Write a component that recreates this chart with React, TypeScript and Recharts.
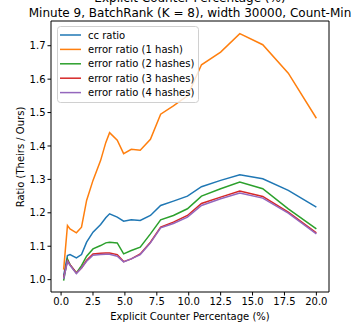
import { Line, LineChart, ReferenceArea, XAxis, YAxis } from "recharts";

const xPct = [0.2, 0.5, 0.7, 1.2, 1.6, 2.0, 2.5, 3.1, 3.5, 3.8, 4.4, 4.9, 5.5, 6.2, 7.0, 7.8, 8.8, 9.9, 11.0, 12.5, 14.0, 15.8, 17.8, 20.0];

const ccRatio = [1.012, 1.072, 1.075, 1.065, 1.075, 1.112, 1.142, 1.165, 1.185, 1.197, 1.187, 1.175, 1.179, 1.177, 1.192, 1.222, 1.235, 1.25, 1.278, 1.297, 1.314, 1.302, 1.267, 1.217];
const err1 = [1.03, 1.162, 1.152, 1.14, 1.157, 1.237, 1.297, 1.357, 1.41, 1.44, 1.417, 1.377, 1.39, 1.387, 1.42, 1.495, 1.52, 1.55, 1.643, 1.681, 1.736, 1.703, 1.618, 1.483];
const err2 = [0.997, 1.062, 1.045, 1.02, 1.042, 1.07, 1.092, 1.102, 1.11, 1.112, 1.11, 1.077, 1.087, 1.097, 1.137, 1.179, 1.192, 1.212, 1.25, 1.272, 1.292, 1.272, 1.212, 1.152];
const err3 = [1.007, 1.057, 1.045, 1.02, 1.035, 1.058, 1.077, 1.079, 1.08, 1.08, 1.075, 1.054, 1.062, 1.077, 1.112, 1.157, 1.172, 1.192, 1.228, 1.247, 1.265, 1.249, 1.202, 1.14];
const err4 = [1.002, 1.055, 1.043, 1.018, 1.035, 1.055, 1.073, 1.075, 1.076, 1.076, 1.07, 1.053, 1.062, 1.075, 1.11, 1.155, 1.168, 1.187, 1.222, 1.242, 1.259, 1.244, 1.199, 1.137];

const xTicks = [0, 2.5, 5, 7.5, 10, 12.5, 15, 17.5, 20];
const yTicks = [1.0, 1.1, 1.2, 1.3, 1.4, 1.5, 1.6, 1.7];

const seriesList = [
  { key: "cc", name: "cc ratio", color: "#1f77b4", values: ccRatio },
  { key: "e1", name: "error ratio (1 hash)", color: "#ff7f0e", values: err1 },
  { key: "e2", name: "error ratio (2 hashes)", color: "#2ca02c", values: err2 },
  { key: "e3", name: "error ratio (3 hashes)", color: "#d62728", values: err3 },
  { key: "e4", name: "error ratio (4 hashes)", color: "#9467bd", values: err4 },
];

const data = xPct.map((x, i) => {
  const row: Record<string, number> = { x };
  seriesList.forEach((s) => {
    row[s.key] = s.values[i];
  });
  return row;
});

const font = "'DejaVu Sans', sans-serif";
const X_DOMAIN = [-0.79, 20.99];
const Y_DOMAIN = [0.963, 1.774];

// drawn outside recharts so it doesn't eat plot space
const LegendBox = () => (
  <svg width={142} height={77} style={{ position: "absolute", left: 57, top: 26 }}>
    <rect x={0.5} y={0.5} width={141} height={76} rx={3} fill="rgba(255,255,255,0.8)" stroke="#d0d0d0" />
    {seriesList.map((s, i) => {
      const cy = 9 + i * 14.4;
      return (
        <g key={s.key}>
          <line x1={3} x2={24} y1={cy} y2={cy} stroke={s.color} strokeWidth={1.5} />
          <text x={31} y={cy} dominantBaseline="central" fontFamily={font} fontSize={10} fill="#000">
            {s.name}
          </text>
        </g>
      );
    })}
  </svg>
);

const App = () => {
  return (
    <div style={{ position: "absolute", left: 0, top: 0, width: 352, height: 326, background: "#fff", overflow: "hidden" }}>
      <svg width={352} height={326} style={{ position: "absolute", left: 0, top: 0 }}>
        <text x={190} y={2} textAnchor="middle" fontFamily={font} fontSize={12} fill="#000">
          Explicit Counter Percentage (%)
        </text>
        <text x={190} y={17} textAnchor="middle" fontFamily={font} fontSize={12} fill="#000">
          Minute 9, BatchRank (K = 8), width 30000, Count-Min
        </text>
        <text x={190} y={320} textAnchor="middle" fontFamily={font} fontSize={10} fill="#000">
          Explicit Counter Percentage (%)
        </text>
        <text
          x={20}
          y={157}
          textAnchor="middle"
          dominantBaseline="central"
          transform="rotate(-90 20 157)"
          fontFamily={font}
          fontSize={10}
          fill="#000"
        >
          Ratio (Theirs / Ours)
        </text>
      </svg>
      <div style={{ position: "absolute", left: 0, top: 0 }}>
        <LineChart width={352} height={326} data={data} margin={{ top: 21, right: 23, bottom: 0, left: 0 }}>
          <XAxis
            dataKey="x"
            type="number"
            domain={X_DOMAIN}
            ticks={xTicks}
            allowDataOverflow
            tickFormatter={(v: number) => v.toFixed(1)}
            height={34}
            tickSize={3.5}
            tickLine={{ stroke: "#000" }}
            axisLine={false}
            tick={{ fontFamily: font, fontSize: 10, fill: "#000" }}
            interval={0}
          />
          <YAxis
            type="number"
            domain={Y_DOMAIN}
            ticks={yTicks}
            allowDataOverflow
            tickFormatter={(v: number) => v.toFixed(1)}
            width={51}
            tickSize={3.5}
            tickLine={{ stroke: "#000" }}
            axisLine={false}
            tick={{ fontFamily: font, fontSize: 10, fill: "#000" }}
            interval={0}
          />
          <ReferenceArea
            x1={X_DOMAIN[0]}
            x2={X_DOMAIN[1]}
            y1={Y_DOMAIN[0]}
            y2={Y_DOMAIN[1]}
            fill="none"
            stroke="#000"
            strokeWidth={1}
          />
          {seriesList.map((s) => (
            <Line
              key={s.key}
              type="linear"
              dataKey={s.key}
              name={s.name}
              stroke={s.color}
              strokeWidth={1.5}
              dot={false}
              isAnimationActive={false}
            />
          ))}
        </LineChart>
      </div>
      <LegendBox />
    </div>
  );
};

export default App;
